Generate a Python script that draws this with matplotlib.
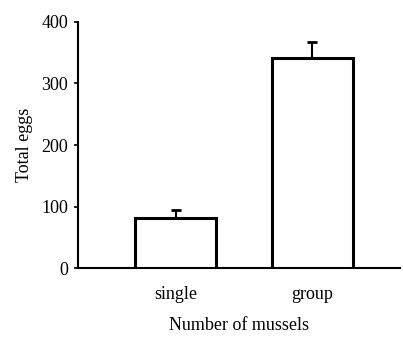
import matplotlib
matplotlib.use("Agg")
import matplotlib.pyplot as plt

categories = ["single", "group"]
values = [81, 341]
errors = [13, 26]
yticks = [0, 100, 200, 300, 400]

plt.rcParams['font.family'] = ['Liberation Serif', 'DejaVu Serif']

fig = plt.figure(figsize=(4.03, 3.38), dpi=100)
ax = fig.add_axes([0.1935, 0.207, 0.80, 0.728])

x = list(range(len(categories)))
ax.bar(x, values, width=0.59, color='white', edgecolor='black', linewidth=2.2, zorder=3)
ax.errorbar(x, values, yerr=[[0]*len(errors), errors], fmt='none', ecolor='black',
            elinewidth=1.5, capsize=3.5, capthick=2, zorder=2)

ax.set_xlim(-0.714, 1.645)
ax.set_ylim(0, 400)
ax.set_yticks(yticks)
ax.set_xticks(x)
ax.set_xticklabels(categories)
ax.tick_params(axis='x', length=0, pad=13, labelsize=13)
ax.tick_params(axis='y', length=3, width=1.2, direction='out', pad=4, labelsize=13)
for s in ['top', 'right']:
    ax.spines[s].set_visible(False)
ax.spines['left'].set_linewidth(1.5)
ax.spines['bottom'].set_linewidth(1.5)
ax.set_xlabel("Number of mussels", fontsize=13, labelpad=10)
ax.set_ylabel("Total eggs", fontsize=13, labelpad=6)

fig.savefig("out.png", dpi=100)
